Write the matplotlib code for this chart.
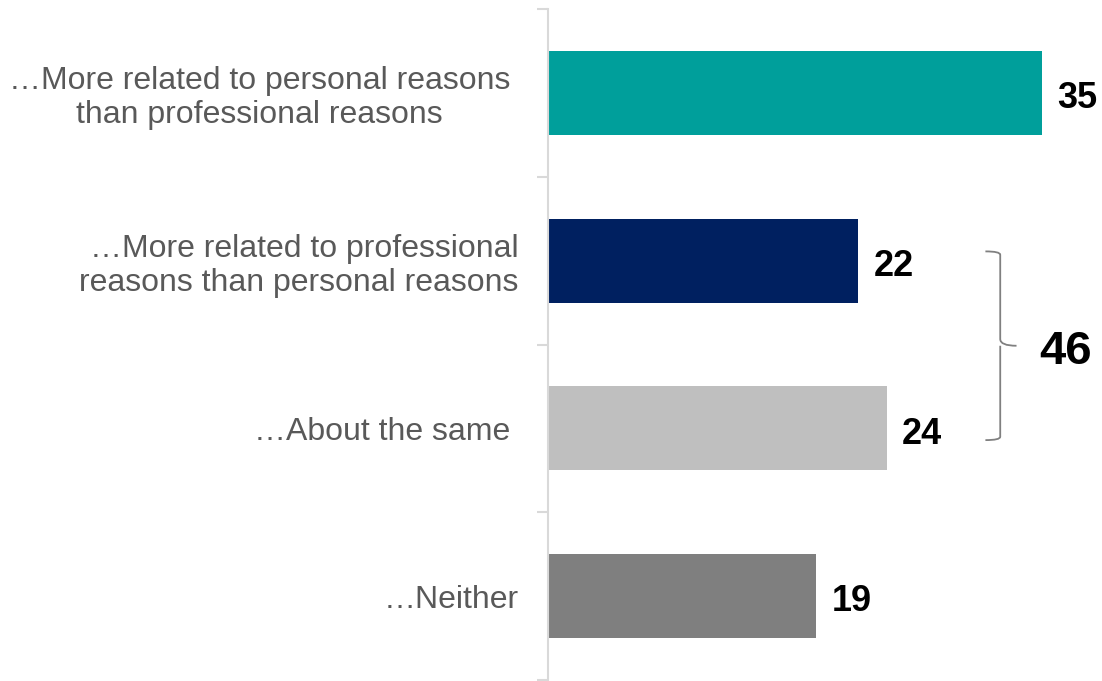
import matplotlib.pyplot as plt
from matplotlib.path import Path
from matplotlib.patches import PathPatch

plt.rcParams['font.family'] = ['Liberation Sans', 'DejaVu Sans']

# dati
categorie = ["\u2026More related to personal reasons \nthan professional reasons ",
             "\u2026More related to professional\nreasons than personal reasons",
             "\u2026About the same ",
             "\u2026Neither"]
valori = [35, 22, 24, 19]
colori = ["#009F9B", "#002060", "#BFBFBF", "#7F7F7F"]
gruppo = [1, 2]          # barre unite dalla parentesi
totale_gruppo = 46

fig = plt.figure(figsize=(11.02, 6.81), dpi=100)
ax = fig.add_axes([548/1102, 1/681, 1 - 548/1102, 671/681])

pos = list(range(len(valori)))
ax.barh(pos, valori, height=0.5, color=colori)
ax.set_xlim(0, 554/14.11)
ax.set_ylim(len(valori) - 0.5, -0.5)

# etichette valori
for p, v in zip(pos, valori):
    ax.text(v + 1.1, p + 0.01, str(v), va="center_baseline", ha="left", fontsize=26, fontweight="bold", color="black")

# asse: linea a sinistra con tacche tra le categorie
for s in ["top", "right", "bottom"]:
    ax.spines[s].set_visible(False)
ax.spines["left"].set_color("#D9D9D9")
ax.spines["left"].set_linewidth(1.5)
ax.set_xticks([])
ax.set_yticks(pos)
ax.set_yticklabels(categorie, fontsize=23, color="#595959")
for lab in ax.get_yticklabels():
    lab.set_multialignment("center" if lab.get_text().startswith("\u2026More related to personal") else "right")
    lab.set_linespacing(1.17)
ax.tick_params(axis="y", which="major", length=0, pad=21)
ax.set_yticks([p - 0.5 for p in pos] + [len(pos) - 0.5], minor=True)
ax.tick_params(axis="y", which="minor", length=8, width=1.5, color="#D9D9D9")

# parentesi graffa
x0 = max(valori[i] for i in gruppo) + 7
y_top = gruppo[0] - 0.055
y_bot = gruppo[-1] + 0.07
y_mid = (y_top + y_bot) / 2
w = 1.05   # larghezza in unita dati
r = 0.02
verts = [(x0, y_top), (x0 + w, y_top), (x0 + w, y_top + r), (x0 + w, y_top + 2*r),
         (x0 + w, y_mid - 2*r), (x0 + w, y_mid), (x0 + 2.1*w, y_mid),
         (x0 + w, y_mid), (x0 + w, y_mid + 2*r),
         (x0 + w, y_bot - 2*r), (x0 + w, y_bot - r), (x0 + w, y_bot), (x0, y_bot)]
codes = [Path.MOVETO, Path.CURVE3, Path.CURVE3, Path.LINETO,
         Path.LINETO, Path.CURVE3, Path.CURVE3,
         Path.MOVETO, Path.CURVE3,
         Path.LINETO, Path.LINETO, Path.CURVE3, Path.CURVE3]
ax.add_patch(PathPatch(Path(verts, codes), fill=False, edgecolor="#808080", lw=1.3, clip_on=False))
ax.text(x0 + 2.1*w + 1.6, y_mid + 0.01, str(totale_gruppo), ha="left", va="center_baseline", fontsize=34, fontweight="bold")

fig.savefig("out.png", dpi=100)
